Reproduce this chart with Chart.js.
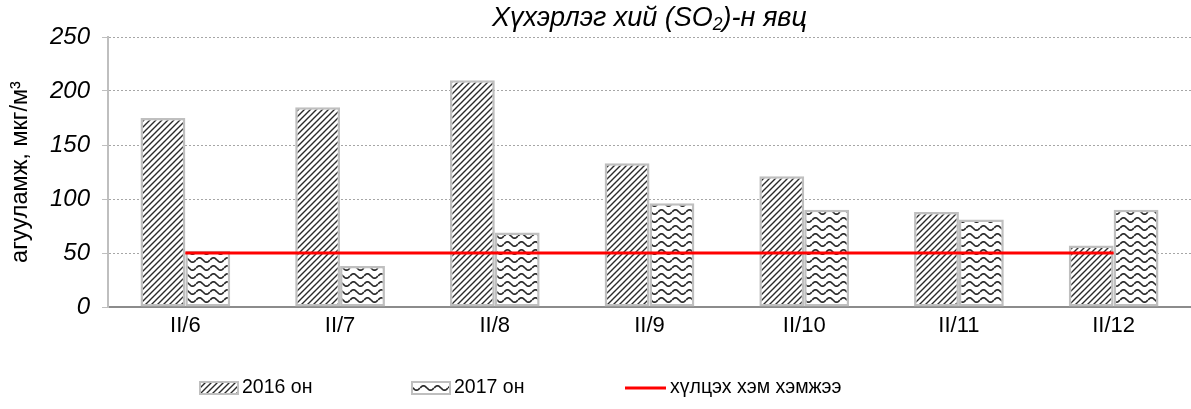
<!DOCTYPE html>
<html lang="mn">
<head>
  <meta charset="UTF-8">
  <title>Хүхэрлэг хий (SO2)-н явц</title>
  <script src="https://cdn.jsdelivr.net/npm/chart.js"></script>
  <style>
    * { box-sizing: border-box; }
    body { margin: 0; background: #fff; }
    .wrap { width: 1191px; height: 409px; position: relative; }
  </style>
</head>
<body>
  <div class="wrap"><canvas id="graficoSO2"></canvas></div>

  <script>
    const categories = ['II/6', 'II/7', 'II/8', 'II/9', 'II/10', 'II/11', 'II/12'];
    const values2016 = [175, 185, 210, 133, 121, 88, 57];
    const values2017 = [52, 38, 69, 96, 90, 81, 90];
    const limitValues = [50, 50, 50, 50, 50, 50, 50];
    const yTicks = [0, 50, 100, 150, 200, 250];
    const seriesLabels = ['2016 он', '2017 он', 'хүлцэх хэм хэмжээ'];

    const FONT = '"Liberation Sans", Arial, sans-serif';

    function stripePattern() {
      const c = document.createElement('canvas');
      c.width = 6; c.height = 6;
      const g = c.getContext('2d');
      g.fillStyle = '#fff';
      g.fillRect(0, 0, 6, 6);
      g.strokeStyle = '#2a2a2a';
      g.lineWidth = 1.4;
      g.beginPath();
      g.moveTo(-1, 7); g.lineTo(7, -1);
      g.moveTo(-4, 4); g.lineTo(4, -4);
      g.moveTo(2, 10); g.lineTo(10, 2);
      g.stroke();
      return g.createPattern(c, 'repeat');
    }

    function wavePattern() {
      const c = document.createElement('canvas');
      c.width = 14; c.height = 8;
      const g = c.getContext('2d');
      g.fillStyle = '#fff';
      g.fillRect(0, 0, 14, 8);
      g.strokeStyle = '#2a2a2a';
      g.lineWidth = 1.7;
      g.beginPath();
      for (let x = 0; x <= 14; x += 0.5) {
        const y = 4 - 2.2 * Math.sin(x / 14 * Math.PI * 2);
        if (x === 0) g.moveTo(x, y); else g.lineTo(x, y);
      }
      g.stroke();
      return g.createPattern(c, 'repeat');
    }

    const fill2016 = stripePattern();
    const fill2017 = wavePattern();

    const titlePlugin = {
      id: 'tituloSO2',
      afterDraw(chart) {
        const ctx = chart.ctx;
        const area = chart.chartArea;
        const parts = [['Хүхэрлэг хий (SO', 0], ['2', 1], [')-н явц', 0]];
        ctx.save();
        ctx.fillStyle = '#000';
        ctx.textBaseline = 'alphabetic';
        ctx.textAlign = 'left';
        let total = 0;
        parts.forEach(p => {
          ctx.font = 'italic ' + (p[1] ? 17.5 : 27) + 'px ' + FONT;
          total += ctx.measureText(p[0]).width;
        });
        let x = (area.left + area.right) / 2 - total / 2;
        parts.forEach(p => {
          ctx.font = 'italic ' + (p[1] ? 17.5 : 27) + 'px ' + FONT;
          ctx.fillText(p[0], x, p[1] ? 30 : 26);
          x += ctx.measureText(p[0]).width;
        });
        ctx.restore();
      }
    };

    const legendPlugin = {
      id: 'legendaSO2',
      afterDraw(chart) {
        const ctx = chart.ctx;
        const y = 388;
        ctx.save();
        ctx.font = '19.5px ' + FONT;
        ctx.textBaseline = 'middle';
        ctx.textAlign = 'left';
        [[200, fill2016, seriesLabels[0]], [412, fill2017, seriesLabels[1]]].forEach(item => {
          ctx.fillStyle = item[1];
          ctx.fillRect(item[0], y - 6, 38, 12);
          ctx.strokeStyle = '#bfbfbf';
          ctx.lineWidth = 2;
          ctx.strokeRect(item[0], y - 6, 38, 12);
          ctx.fillStyle = '#000';
          ctx.fillText(item[2], item[0] + 42, y);
        });
        ctx.strokeStyle = '#ff0000';
        ctx.lineWidth = 3;
        ctx.beginPath();
        ctx.moveTo(625, y);
        ctx.lineTo(666, y);
        ctx.stroke();
        ctx.fillStyle = '#000';
        ctx.fillText(seriesLabels[2], 670, y);
        ctx.restore();
      }
    };

    new Chart(document.getElementById('graficoSO2'), {
      type: 'bar',
      data: {
        labels: categories,
        datasets: [{
          type: 'line',
          label: seriesLabels[2],
          data: limitValues,
          borderColor: '#ff0000',
          borderWidth: 3,
          pointRadius: 0,
          fill: false,
          order: 0
        }, {
          label: seriesLabels[0],
          data: values2016,
          backgroundColor: fill2016,
          borderColor: '#bfbfbf',
          borderWidth: 2.5,
          borderSkipped: false,
          order: 1
        }, {
          label: seriesLabels[1],
          data: values2017,
          backgroundColor: fill2017,
          borderColor: '#bfbfbf',
          borderWidth: 2.5,
          borderSkipped: false,
          order: 1
        }]
      },
      options: {
        responsive: true,
        maintainAspectRatio: false,
        animation: false,
        layout: { padding: { top: 37, right: 0, bottom: 0, left: 0 } },
        datasets: { bar: { barPercentage: 1, categoryPercentage: 0.58 } },
        plugins: {
          legend: { display: false },
          tooltip: { enabled: false }
        },
        scales: {
          x: {
            offset: true,
            grid: { display: false, drawTicks: false },
            border: { color: '#8c8c8c', width: 2 },
            ticks: { color: '#000', padding: 6, font: { family: FONT, size: 22 } },
            afterFit(scale) { scale.height = 102; }
          },
          y: {
            min: 0,
            max: 250,
            afterBuildTicks(scale) { scale.ticks = yTicks.map(v => ({ value: v })); },
            grid: { color: '#a6a6a6', tickColor: '#bfbfbf', tickLength: 6, lineWidth: 1 },
            border: { color: '#bfbfbf', width: 2, dash: [2, 2] },
            ticks: { color: '#000', padding: 12, font: { family: FONT, size: 24, style: 'italic' } },
            title: {
              display: true,
              text: 'агууламж, мкг/м³',
              color: '#000',
              padding: { top: 6, bottom: 0 },
              font: { family: FONT, size: 23.5 }
            },
            afterFit(scale) { scale.width = 108; }
          }
        }
      },
      plugins: [titlePlugin, legendPlugin]
    });
  </script>
</body>
</html>
